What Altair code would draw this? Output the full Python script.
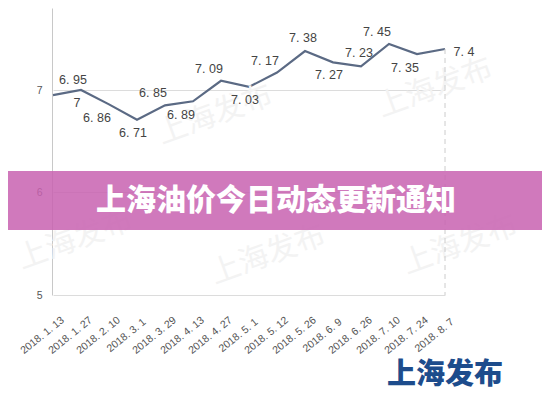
import altair as alt
import pandas as pd

dates = ["2018.1.13", "2018.1.27", "2018.2.10", "2018.3.1", "2018.3.29",
         "2018.4.13", "2018.4.27", "2018.5.1", "2018.5.12", "2018.5.26",
         "2018.6.9", "2018.6.26", "2018.7.10", "2018.7.24", "2018.8.7"]
prices = [6.95, 7, 6.86, 6.71, 6.85, 6.89, 7.09, 7.03, 7.17, 7.38,
          7.27, 7.23, 7.45, 7.35, 7.4]
placements = ["ne", "s", "sw", "s", "nw", "sw", "nw", "s", "nw", "n",
              "s", "n", "nw", "sw", "e"]
y_ticks = [5, 6, 7]
banner_title = "上海油价今日动态更新通知"
logo_text = "上海发布"

df = pd.DataFrame({"date": dates, "price": prices, "place": placements})

FONT = "Liberation Sans"
CJK = "Noto Sans CJK SC"

xscale = alt.Scale(type="point", range=[1, 393], padding=0)
xaxis = alt.Axis(title=None, domain=False, ticks=False, grid=False,
                 labelAngle=321, labelAlign="center", labelBaseline="middle",
                 labelPadding=40, labelOffset=-11, labelOverlap=False,
                 labelFont=FONT, labelFontSize=10.5, labelColor="#555555",
                 labelExpr="join(split(datum.label, '.'), '. ')")
yscale = alt.Scale(domain=[5, 7.8], nice=False, zero=False)
yaxis = alt.Axis(title=None, values=y_ticks, ticks=False, grid=True,
                 gridColor="#dcdcdc", domainColor="#c8c8c8",
                 labelFont=FONT, labelFontSize=10.5, labelColor="#555555",
                 labelPadding=10)

xenc = alt.X("date:N", sort=dates, scale=xscale, axis=xaxis)
yenc = alt.Y("price:Q", scale=yscale, axis=yaxis)

base = alt.Chart(df)
one = alt.Chart(df).transform_filter(f"datum.date == '{dates[0]}'")

line = base.mark_line(color="#5b6a84", strokeWidth=2.2).encode(x=xenc, y=yenc)

dash = base.transform_filter(f"datum.date == '{dates[-1]}'").mark_rule(
    color="#cccccc", strokeDash=[5, 4], strokeWidth=1
).encode(x=xenc, y=yenc, y2=alt.datum(5))

# faint watermarks
wm_layers = []
for (wx, wy) in [(163, 107), (383, 80), (23, 232), (216, 247), (408, 237)]:
    wm_layers.append(
        one.mark_text(text=logo_text, font=CJK, fontSize=30, fontWeight="normal",
                      color="#f3f3f3", angle=340)
        .encode(x=alt.value(wx), y=alt.value(wy))
    )

offsets = {"n": (-2, -13), "nw": (-12, -12), "ne": (20, -15),
           "s": (-4, 13), "sw": (-12, 14), "e": (19, 3)}
text_layers = []
for key, (dx, dy) in offsets.items():
    text_layers.append(
        base.transform_filter(f"datum.place == '{key}'")
        .transform_calculate(lab="replace('' + datum.price, '.', '. ')")
        .mark_text(font=FONT, fontSize=12.5, color="#444444", dx=dx, dy=dy,
                   align="center", baseline="middle")
        .encode(x=xenc, y=yenc, text="lab:N")
    )

banner = one.mark_rect(color="#c862b0", opacity=0.85).encode(
    x=alt.value(-44), x2=alt.value(490), y=alt.value(163), y2=alt.value(222))

banner_text = one.mark_text(
    text=banner_title, font=CJK, fontSize=30, fontWeight=900, color="#ffffff",
    align="center", baseline="middle"
).encode(x=alt.value(224), y=alt.value(193))

logo = one.mark_text(
    text=logo_text, font=CJK, fontSize=29, fontWeight=900, color="#1d4c8c",
    align="center", baseline="middle"
).encode(x=alt.value(393), y=alt.value(367))

chart = alt.layer(line, *wm_layers, dash, *text_layers, banner, banner_text, logo).properties(
    width=416, height=287,
    autosize=alt.AutoSizeParams(type="none"),
    padding={"left": 44, "top": 0, "right": 74, "bottom": 97},
).configure(background="#ffffff").configure_view(stroke=None)

chart.save("out.html", embed_options={"renderer": "svg", "actions": False})
